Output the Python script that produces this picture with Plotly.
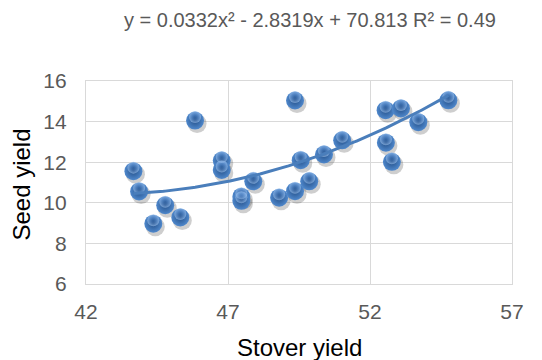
import numpy as np
import plotly.graph_objects as go

# Stover yield vs seed yield observations
stover_yield = [43.67, 43.87, 44.37, 44.79, 45.32, 45.84, 46.78, 46.78, 47.47, 47.47,
                47.89, 48.80, 49.36, 49.36, 49.56, 49.86, 50.38, 51.02, 52.55, 52.56,
                52.77, 53.09, 53.70, 54.76]
seed_yield = [11.56, 10.56, 8.97, 9.88, 9.28, 14.05, 12.08, 11.62, 10.30, 10.10,
              11.06, 10.25, 15.04, 10.57, 12.10, 11.06, 12.38, 13.08, 14.56, 12.96,
              12.02, 14.65, 13.97, 15.05]

# Polynomial (order 2) trendline coefficients
coef_a, coef_b, coef_c = 0.0332, -2.8319, 70.813
r_squared = 0.49

x_ticks = [42, 47, 52, 57]
y_ticks = [6, 8, 10, 12, 14, 16]

W, H = 542, 360
M_L, M_R, M_T, M_B = 86, 30, 81, 76
x_rng = (42, 57)
y_rng = (6, 16)
plot_w = W - M_L - M_R
plot_h = H - M_T - M_B
px_x = plot_w / (x_rng[1] - x_rng[0])
px_y = plot_h / (y_rng[1] - y_rng[0])

xs = np.array(stover_yield)
ys = np.array(seed_yield)

fig = go.Figure()

# soft drop shadow below each sphere
fig.add_trace(go.Scatter(
    x=xs + 2.0 / px_x, y=ys - 3.0 / px_y, mode="markers",
    marker=dict(size=19, color="rgba(60,60,60,0.25)", line=dict(width=0)),
    hoverinfo="skip", showlegend=False))

# sphere body
fig.add_trace(go.Scatter(
    x=xs, y=ys, mode="markers",
    marker=dict(size=18, color="#4f88cc",
                gradient=dict(type="radial", color="#25518a"),
                line=dict(width=0)),
    showlegend=False))

# soft specular highlight toward the top of each sphere
fig.add_trace(go.Scatter(
    x=xs, y=ys + 3.5 / px_y, mode="markers",
    marker=dict(size=12, color="rgba(165,200,240,0.6)",
                gradient=dict(type="radial", color="rgba(90,140,210,0)"),
                line=dict(width=0)),
    hoverinfo="skip", showlegend=False))

# trendline
tx = np.linspace(min(stover_yield), max(stover_yield), 200)
ty = coef_a * tx ** 2 + coef_b * tx + coef_c
fig.add_trace(go.Scatter(
    x=tx, y=ty, mode="lines",
    line=dict(color="#4a7ebb", width=3),
    hoverinfo="skip", showlegend=False))

eq_text = (f"y = {coef_a}x² - {abs(coef_b)}x + {coef_c} R² = {r_squared}")

fig.update_layout(
    width=W, height=H,
    margin=dict(l=M_L, r=M_R, t=M_T, b=M_B, autoexpand=False),
    paper_bgcolor="white", plot_bgcolor="white",
    font=dict(family="Liberation Sans, Arial, sans-serif", color="#595959"),
    annotations=[
        dict(text=eq_text, xref="paper", yref="paper",
             x=0.5255, y=1.0 + (M_T - 20) / plot_h,
             xanchor="center", yanchor="middle", showarrow=False,
             font=dict(size=20, color="#595959")),
        dict(text="Stover yield", xref="paper", yref="paper",
             x=0.5, y=-(347 - (M_T + plot_h)) / plot_h,
             xanchor="center", yanchor="middle", showarrow=False,
             font=dict(size=24, color="#000000")),
        dict(text="Seed yield", xref="paper", yref="paper",
             x=-(M_L - 22) / plot_w, y=0.49, textangle=-90,
             xanchor="center", yanchor="middle", showarrow=False,
             font=dict(size=24, color="#000000")),
    ],
    xaxis=dict(range=list(x_rng), tickvals=x_ticks, showgrid=True,
               gridcolor="#d9d9d9", gridwidth=1.3, zeroline=False,
               showline=True, linecolor="#d9d9d9", linewidth=1.3, mirror=True,
               ticks="outside", ticklen=9, tickcolor="rgba(0,0,0,0)",
               tickfont=dict(size=21, color="#595959"), automargin=False),
    yaxis=dict(range=list(y_rng), tickvals=y_ticks, showgrid=True,
               gridcolor="#d9d9d9", gridwidth=1.3, zeroline=False,
               showline=True, linecolor="#d9d9d9", linewidth=1.3, mirror=True,
               ticks="outside", ticklen=14, tickcolor="rgba(0,0,0,0)",
               tickfont=dict(size=21, color="#595959"), automargin=False),
)

fig.write_html("out.html")
